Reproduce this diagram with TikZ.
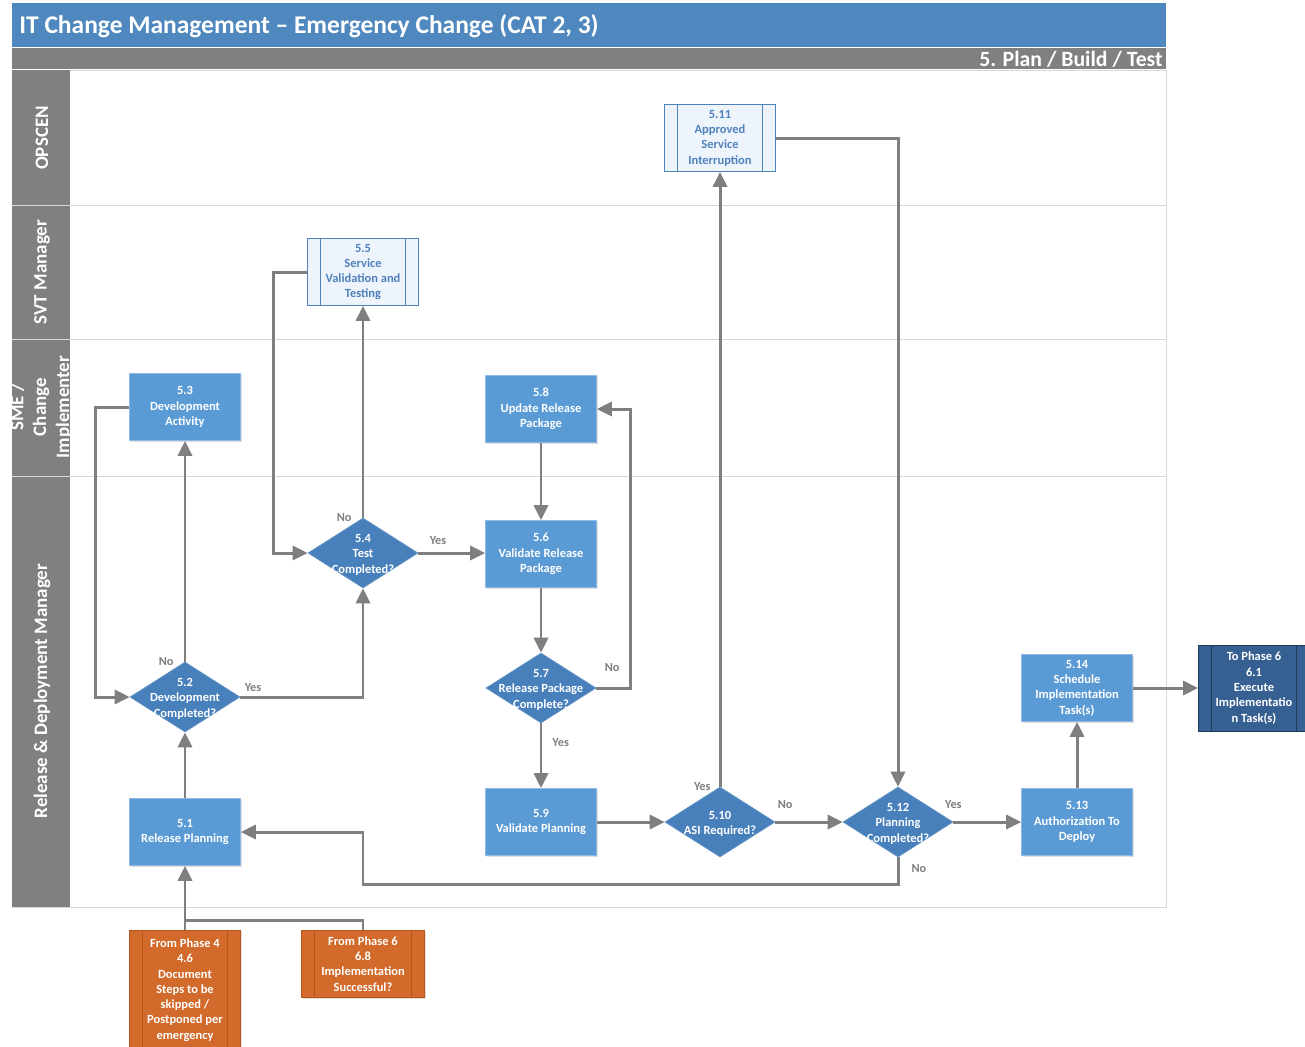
\documentclass[tikz,border=0pt]{standalone}
\usepackage{fontspec}
\setmainfont{Carlito}
\usetikzlibrary{shapes.geometric,arrows.meta,shadows}

\definecolor{titleblue}{RGB}{79,136,190}
\definecolor{headgray}{RGB}{128,128,128}
\definecolor{lanegray}{RGB}{215,215,215}
\definecolor{procblue}{RGB}{91,155,213}
\definecolor{procedge}{RGB}{140,186,228}
\definecolor{decblue}{RGB}{72,128,187}
\definecolor{subfill}{RGB}{238,244,251}
\definecolor{subedge}{RGB}{79,129,189}
\definecolor{darkblue}{RGB}{55,96,146}
\definecolor{phaseorange}{RGB}{209,106,42}
\definecolor{orangeedge}{RGB}{180,85,25}
\definecolor{flowgray}{RGB}{127,127,127}

\tikzset{
  boxtext/.style={font=\fontsize{7.1}{8.7}\selectfont\bfseries, align=center},
  process/.style={boxtext, rectangle, fill=procblue, draw=procedge, line width=0.4pt,
    text=white, minimum width=2.22cm, minimum height=1.34cm, inner sep=1pt,
    drop shadow={shadow xshift=0.8pt, shadow yshift=-0.8pt, opacity=0.25}},
  decision/.style={diamond, fill=decblue, draw=decblue!85!white, line width=0.4pt,
    minimum width=2.2cm, minimum height=1.4cm, inner sep=0pt,
    label={[boxtext, text=white, yshift=-1pt]center:{#1}}},
  % box with the two inner bars of a sub-process
  subproc/.style={boxtext, rectangle, line width=0.5pt, minimum width=2.22cm,
    minimum height=1.34cm, inner sep=1pt,
    path picture={
      \draw[#1, line width=0.5pt]
        ([xshift=0.26cm]path picture bounding box.north west) -- ([xshift=0.26cm]path picture bounding box.south west)
        ([xshift=-0.26cm]path picture bounding box.north east) -- ([xshift=-0.26cm]path picture bounding box.south east);}},
  svtbox/.style={subproc=subedge, fill=subfill, draw=subedge, text=subedge},
  nextphase/.style={subproc=darkblue!60!black, fill=darkblue, draw=darkblue!60!black, text=white,
    drop shadow={shadow xshift=0.8pt, shadow yshift=-0.8pt, opacity=0.25}},
  fromphase/.style={subproc=orangeedge, fill=phaseorange, draw=orangeedge, text=white,
    drop shadow={shadow xshift=0.8pt, shadow yshift=-0.8pt, opacity=0.25}},
  lanelabel/.style={rotate=90, text=white, font=\fontsize{10.8}{13}\selectfont\bfseries, align=center},
  flow/.style={draw=flowgray, line width=1.7pt, -{Triangle[length=8.5pt,width=8pt]}},
  flowline/.style={draw=flowgray, line width=1.7pt},
  lbl/.style={text=flowgray, font=\fontsize{7}{8}\selectfont\bfseries, inner sep=0pt}
}

\begin{document}
\begin{tikzpicture}[x=0.02cm, y=-0.02cm]
  \useasboundingbox (0,0) rectangle (1305,1046);

  % Title and phase bars
  \fill[titleblue] (12,3) rectangle (1166,47);
  \node[anchor=west, inner sep=0pt, text=white, font=\fontsize{14.5}{16}\selectfont\bfseries] (title) at (19,26)
    {IT Change Management – Emergency Change (CAT 2, 3)};
  \fill[headgray] (12,48) rectangle (1166,69);
  \node[anchor=east, inner sep=0pt, text=white, font=\fontsize{12.4}{14}\selectfont\bfseries] (phase) at (1163,59)
    {5. Plan / Build / Test};

  % Pool with its lanes
  \draw[lanegray, fill=white] (12,70) rectangle (1166,907);
  \fill[headgray] (12,70) rectangle (70,907);
  \foreach \y in {205,339,476} {
      \draw[lanegray] (12,\y) -- (1166,\y);
    }
  \node[lanelabel] (opscen) at (42,138) {OPSCEN};
  \node[lanelabel] (svtlane) at (42,272) {SVT Manager};
  \node[lanelabel] (smelane) at (41,407) {SME /\\Change\\Implementer};
  \node[lanelabel] (rdmlane) at (42,691) {Release \& Deployment Manager};

  % Process steps
  \node[process] (devact) at (185,407) {5.3\\Development\\Activity};
  \node[process] (update) at (541,409) {5.8\\Update Release\\Package};
  \node[process] (validate) at (541,554) {5.6\\Validate Release\\Package};
  \node[process] (plan) at (185,832) {5.1\\Release Planning};
  \node[process] (valplan) at (541,822) {5.9\\Validate Planning};
  \node[process] (auth) at (1077,822) {5.13\\Authorization To\\Deploy};
  \node[process] (sched) at (1077,688) {5.14\\Schedule\\Implementation\\Task(s)};
  \node[svtbox] (approved) at (720,138) {5.11\\Approved\\Service\\Interruption};
  \node[svtbox] (svt) at (363,272) {5.5\\Service\\Validation and\\Testing};

  % Decisions
  \node[decision={5.2\\Development\\Completed?}] (devdone) at (185,697) {};
  \node[decision={5.4\\Test\\Completed?}] (testdone) at (363,553) {};
  \node[decision={5.7\\Release Package\\Complete?}] (pkgdone) at (541,688) {};
  \node[decision={5.10\\ASI Required?}] (asi) at (720,822) {};
  \node[decision={5.12\\Planning\\Completed?}] (plandone) at (898,822) {};

  % Links to other phases
  \node[nextphase, minimum height=1.72cm] (tophase) at (1254,688)
    {To Phase 6\\6.1\\Execute\\Implementatio\\n Task(s)};
  \node[fromphase, minimum height=2.4cm] (fromfour) at (185,990)
    {From Phase 4\\4.6\\Document\\Steps to be\\skipped /\\Postponed per\\emergency};
  \node[fromphase, minimum width=2.46cm] (fromsix) at (363,964)
    {From Phase 6\\6.8\\Implementation\\Successful?};
  \coordinate (merge) at (185,920);
  \coordinate (retback) at (363,884);

  % Connectors
  \draw[flow] (fromfour.north) -- (plan.south);
  \draw[flowline] (fromsix.north) |- (merge);
  \draw[flow] (plan.north) -- (devdone.south);
  \draw[flow] (devdone.north) node[lbl, anchor=east, xshift=-0.2cm] {No} -- (devact.south);
  \draw[flow] (devact.west) -- ++(-34,0) |- (devdone.west);
  \draw[flow] (devdone.east) node[lbl, anchor=south west, xshift=0.06cm, yshift=0.08cm] {Yes} -| (testdone.south);
  \draw[flow] (testdone.north) node[lbl, anchor=east, xshift=-0.2cm] {No} -- (svt.south);
  \draw[flow] (svt.west) -- ++(-34,0) |- (testdone.west);
  \draw[flow] (testdone.east) node[lbl, anchor=south west, xshift=0.2cm, yshift=0.14cm] {Yes} -- (testdone.east -| validate.west);
  \draw[flow] (update.south) -- (validate.north);
  \draw[flow] (validate.south) -- (pkgdone.north);
  \draw[flow] (pkgdone.east) node[lbl, anchor=south west, xshift=0.14cm, yshift=0.3cm] {No} -- ++(34,0) |- (update.east);
  \draw[flow] (pkgdone.south) node[lbl, anchor=west, xshift=0.2cm, yshift=-0.38cm] {Yes} -- (valplan.north);
  \draw[flow] (valplan.east) -- (asi.west);
  \draw[flow] (asi.north) node[lbl, anchor=east, xshift=-0.16cm] {Yes} -- (approved.south);
  \draw[flow] (asi.east) node[lbl, anchor=south west, xshift=0.02cm, yshift=0.24cm] {No} -- (plandone.west);
  \draw[flow] (approved.east) -| (plandone.north);
  \draw[flow] (plandone.east) node[lbl, anchor=south, yshift=0.24cm] {Yes} -- (auth.west);
  \draw[flow] (plandone.south) node[lbl, anchor=west, xshift=0.24cm, yshift=-0.22cm] {No} |- (retback) |- (plan.east);
  \draw[flow] (auth.north) -- (sched.south);
  \draw[flow] (sched.east) -- (tophase.west);
\end{tikzpicture}
\end{document}
